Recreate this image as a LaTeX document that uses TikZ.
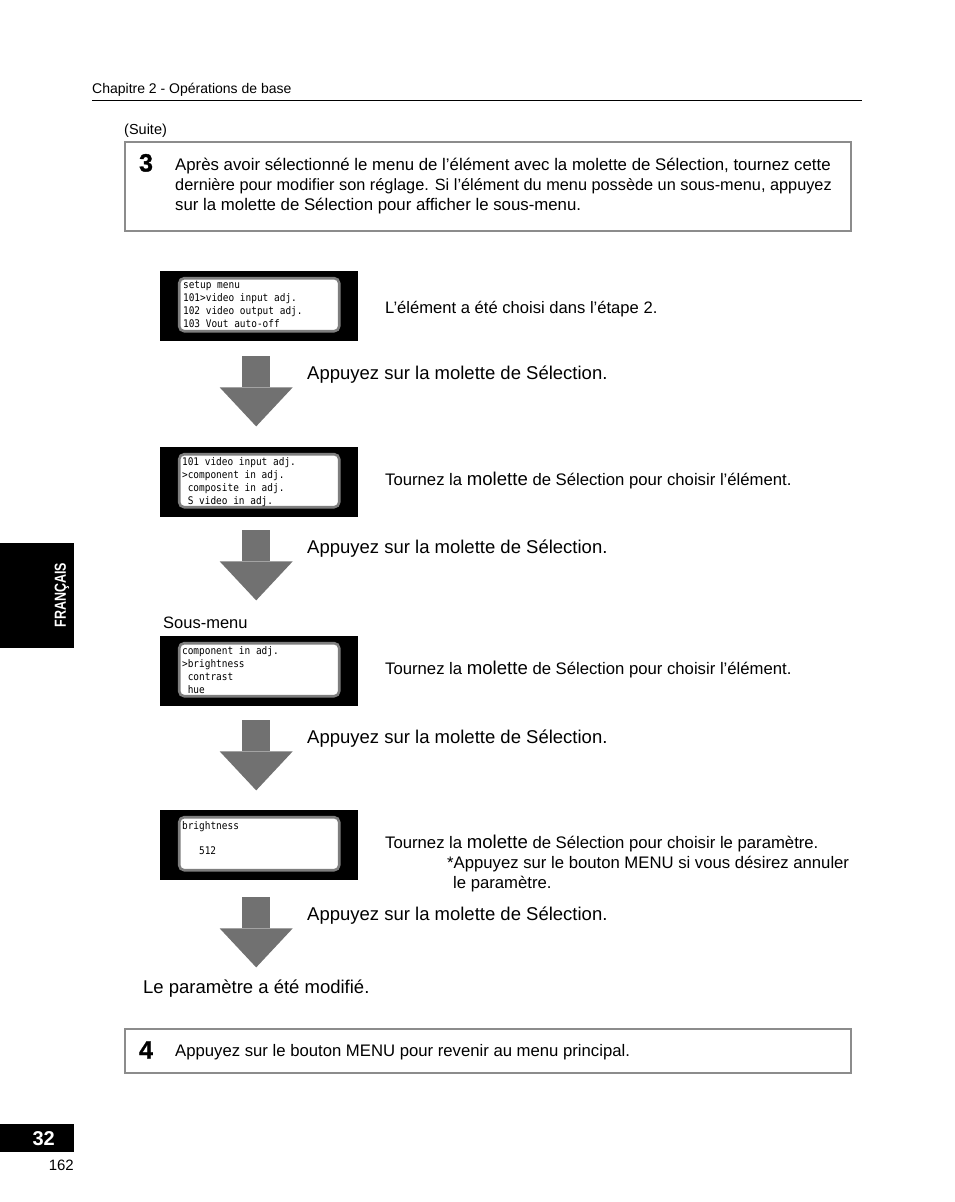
\documentclass[tikz,border=0pt]{standalone}
\usepackage{fontspec}
\setmainfont{Liberation Sans}
\setmonofont[FakeStretch=0.9]{DejaVu Sans Mono}
\newfontfamily\condfont[FakeStretch=0.78]{Liberation Sans}
\newfontfamily\heavyfont[FakeBold=1.2]{Liberation Sans}
\usepackage{tikz}
\usetikzlibrary{arrows.meta,positioning}
\definecolor{framegray}{HTML}{8C8C8C}
\definecolor{arrowgray}{HTML}{717171}
\definecolor{screengray}{HTML}{7E7E7E}

\begin{document}
\begin{tikzpicture}[x=1pt, y=-1pt,
 hdr/.style={anchor=base west, inner sep=0pt, font=\fontsize{14}{16}\selectfont},
 body/.style={anchor=base west, inner sep=0pt, font=\fontsize{16.8}{20}\selectfont},
 say/.style={anchor=base west, inner sep=0pt, font=\fontsize{18.5}{20}\selectfont},
 note/.style={anchor=base west, inner sep=0pt, font=\fontsize{16.7}{20}\selectfont},
 stepframe/.style={draw=framegray, line width=1.6pt, inner sep=0pt, anchor=north west, minimum width=726pt},
 stepnum/.style={anchor=base, inner sep=0pt, font=\heavyfont\fontsize{25}{25}\bfseries\selectfont},
 lcd/.style={fill=black, minimum width=198pt, minimum height=70pt, inner sep=0pt, anchor=north west},
 screen/.style={draw=screengray, line width=2.6pt, fill=white, rounded corners=5pt, minimum width=160pt, minimum height=53pt, inner sep=0pt},
 lcdtext/.style={anchor=north west, inner sep=0pt, align=left, font=\ttfamily\fontsize{10.5}{13}\selectfont},
 tab/.style={fill=black, inner sep=0pt, anchor=north west},
 downarrow/.style={draw=arrowgray, line width=28pt, -{Triangle[width=73pt 0, length=39pt 0, line width=0pt, color=arrowgray]}}]
\useasboundingbox (0,0) rectangle (954,1202);

% header
\node[hdr] (chap) at (92,93) {Chapitre 2 - Opérations de base};
\draw[line width=0.9pt] (92,100) coordinate (rulel) -- (862,100) coordinate (ruler);
\node[hdr, font=\fontsize{14.5}{16}\selectfont] (suite) at (124,134) {(Suite)};

% step 3
\node[stepframe, minimum height=89pt] (box3) at (124,141) {};
\node[stepnum] (num3) at (146,171.5) {3};
\node[body] (l3a) at (175,170) {Après avoir sélectionné le menu de l’élément avec la molette de Sélection, tournez cette};
\node[body, font=\fontsize{16.3}{20}\selectfont] (l3b) at (175,190) {dernière pour modifier son réglage. Si l’élément du menu possède un sous-menu, appuyez};
\node[body] (l3c) at (175,210) {sur la molette de Sélection pour afficher le sous-menu.};

% screens
\node[lcd] (lcdA) at (160,271) {};
\node[screen] (scrA) at ([yshift=1.5pt]lcdA.center) {};
\node[lcdtext] (txtA) at ([xshift=5pt,yshift=-4.5pt]scrA.north west) {setup menu\\101>video input adj.\\102 video output adj.\\103 Vout auto-off};

\node[lcd] (lcdB) at (160,447) {};
\node[screen] (scrB) at ([yshift=1.5pt]lcdB.center) {};
\node[lcdtext] (txtB) at ([xshift=4pt,yshift=-4.5pt]scrB.north west) {101 video input adj.\\>component in adj.\\\phantom{>}composite in adj.\\\phantom{>}S video in adj.};

\node[note, font=\fontsize{16.5}{18}\selectfont] (sub) at (163,628) {Sous-menu};
\node[lcd] (lcdC) at (160,636) {};
\node[screen] (scrC) at ([yshift=1.5pt]lcdC.center) {};
\node[lcdtext] (txtC) at ([xshift=4pt,yshift=-4.5pt]scrC.north west) {component in adj.\\>brightness\\\phantom{>}contrast\\\phantom{>}hue};

\node[lcd] (lcdD) at (160,810) {};
\node[screen] (scrD) at ([yshift=1.5pt]lcdD.center) {};
\node[lcdtext] (txtD) at ([xshift=4pt,yshift=-5.5pt]scrD.north west) {brightness\\[12pt]\hspace*{17pt}512};

% arrows between screens
\coordinate[below=15pt of lcdA.south, xshift=-3pt] (topA);
\coordinate[below=70pt of topA] (tipA);
\coordinate[below=13pt of lcdB.south, xshift=-3pt] (topB);
\coordinate[below=70pt of topB] (tipB);
\coordinate[below=14pt of lcdC.south, xshift=-3pt] (topC);
\coordinate[below=70pt of topC] (tipC);
\coordinate[below=17pt of lcdD.south, xshift=-3pt] (topD);
\coordinate[below=70pt of topD] (tipD);
\draw[downarrow] (topA) -- (tipA);
\draw[downarrow] (topB) -- (tipB);
\draw[downarrow] (topC) -- (tipC);
\draw[downarrow] (topD) -- (tipD);

% labels
\node[note, font=\fontsize{16.6}{18}\selectfont] (chosen) at (385,313) {L’élément a été choisi dans l’étape 2.};
\node[say] (pressA) at (307,379.5) {Appuyez sur la molette de Sélection.};
\node[note] (turnB) at (385,485) {Tournez la {\fontsize{18.6}{20}\selectfont molette} de Sélection pour choisir l’élément.};
\node[say] (pressB) at (307,553.5) {Appuyez sur la molette de Sélection.};
\node[note] (turnC) at (385,674) {Tournez la {\fontsize{18.6}{20}\selectfont molette} de Sélection pour choisir l’élément.};
\node[say] (pressC) at (307,743.5) {Appuyez sur la molette de Sélection.};
\node[note] (turnD) at (385,848) {Tournez la {\fontsize{18.6}{20}\selectfont molette} de Sélection pour choisir le paramètre.};
\node[note] (cancel) at (447,868) {*Appuyez sur le bouton MENU si vous désirez annuler};
\node[note] (cancelb) at (453,888) {le paramètre.};
\node[say] (pressD) at (307,920.5) {Appuyez sur la molette de Sélection.};
\node[say] (done) at (143,993.5) {Le paramètre a été modifié.};

% step 4
\node[stepframe, minimum height=44pt] (box4) at (124,1028) {};
\node[stepnum] (num4) at (146,1058.5) {4};
\node[note] (l4) at (175,1056) {Appuyez sur le bouton MENU pour revenir au menu principal.};

% side tab and page number
\node[tab, minimum width=74pt, minimum height=105pt] (lang) at (0,543) {};
\node[rotate=90, inner sep=0pt, text=white, font=\condfont\fontsize{16}{16}\bfseries\selectfont] (langtxt) at (62,595) {FRANÇAIS};
\node[tab, minimum width=74pt, minimum height=28pt] (pagebox) at (0,1124) {};
\node[anchor=base east, inner sep=0pt, text=white, font=\fontsize{20}{20}\bfseries\selectfont] (page) at (55,1145) {32};
\node[anchor=base east, inner sep=0pt, font=\fontsize{15}{16}\selectfont] (total) at (74,1170.5) {162};
\end{tikzpicture}
\end{document}
